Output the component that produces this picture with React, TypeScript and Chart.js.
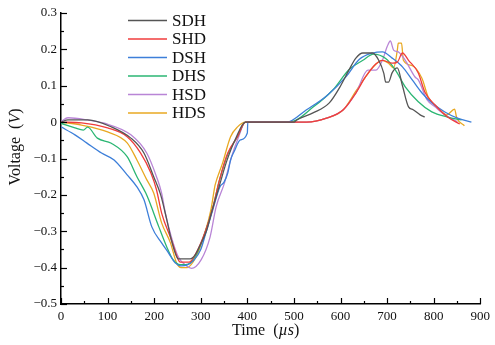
import React, { useEffect, useRef } from 'react';
import { Chart, registerables } from 'chart.js';

Chart.register(...registerables);

const seriesNames = ['SDH', 'SHD', 'DSH', 'DHS', 'HSD', 'HDS'];
const seriesColors = ['#555555', '#f03c3c', '#3d7fd9', '#2bb673', '#b985d6', '#e8a822'];

// time in µs, voltage in V
const sdhTime = [0, 15, 57, 108, 150, 178, 199, 214, 227, 237, 252, 277, 288, 298, 312, 325, 340, 355, 375, 396, 500, 506, 542, 576, 598, 618, 633, 648, 669, 682, 693, 697, 703, 711, 722, 733, 746, 756, 771, 781];
const sdhVolt = [0, 0.006, 0.006, -0.013, -0.044, -0.085, -0.15, -0.2, -0.268, -0.324, -0.376, -0.376, -0.365, -0.34, -0.3, -0.24, -0.175, -0.11, -0.045, 0, 0, 0.006, 0.026, 0.053, 0.095, 0.143, 0.176, 0.19, 0.19, 0.17, 0.134, 0.11, 0.11, 0.136, 0.149, 0.1, 0.042, 0.034, 0.02, 0.014];

const shdTime = [0, 44, 100, 142, 171, 193, 205, 216, 237, 252, 256, 275, 290, 310, 325, 340, 358, 379, 396, 527, 570, 606, 633, 654, 676, 690, 711, 722, 733, 746, 767, 781, 803, 830, 856];
const shdVolt = [0, -0.002, -0.016, -0.04, -0.085, -0.14, -0.186, -0.25, -0.324, -0.379, -0.385, -0.385, -0.36, -0.3, -0.24, -0.16, -0.085, -0.04, 0, 0, 0.011, 0.034, 0.08, 0.125, 0.16, 0.17, 0.162, 0.165, 0.19, 0.17, 0.135, 0.083, 0.047, 0.014, -0.005];

const dshTime = [0, 30, 55, 87, 114, 142, 163, 178, 195, 216, 231, 245, 258, 270, 285, 300, 312, 325, 341, 350, 358, 364, 372, 385, 400, 401, 485, 527, 570, 612, 640, 669, 690, 711, 733, 754, 775, 796, 824, 851, 881];
const dshVolt = [-0.013, -0.035, -0.057, -0.085, -0.104, -0.145, -0.178, -0.213, -0.288, -0.332, -0.36, -0.387, -0.395, -0.393, -0.38, -0.35, -0.3, -0.245, -0.178, -0.165, -0.14, -0.104, -0.08, -0.049, -0.03, 0, 0, 0.034, 0.072, 0.125, 0.172, 0.19, 0.193, 0.176, 0.152, 0.116, 0.08, 0.053, 0.028, 0.011, 0];

const dhsTime = [0, 30, 48, 57, 78, 108, 142, 163, 182, 188, 210, 227, 241, 256, 268, 290, 310, 325, 340, 358, 379, 396, 491, 542, 584, 618, 648, 671, 697, 718, 739, 767, 796, 830, 860];
const dhsVolt = [-0.003, -0.016, -0.022, -0.014, -0.044, -0.058, -0.095, -0.15, -0.195, -0.213, -0.288, -0.343, -0.379, -0.392, -0.392, -0.365, -0.3, -0.24, -0.16, -0.088, -0.04, 0, 0, 0.042, 0.089, 0.144, 0.17, 0.187, 0.175, 0.143, 0.097, 0.056, 0.028, 0.014, 0.006];

const hsdTime = [0, 15, 57, 93, 150, 184, 205, 216, 224, 237, 252, 269, 280, 301, 320, 333, 351, 365, 380, 396, 527, 570, 606, 633, 659, 676, 690, 700, 707, 714, 724, 739, 760, 767, 786, 803, 824, 851];
const hsdVolt = [0.002, 0.012, 0.006, -0.003, -0.035, -0.085, -0.15, -0.195, -0.25, -0.316, -0.371, -0.395, -0.402, -0.378, -0.316, -0.233, -0.167, -0.1, -0.045, 0, 0, 0.011, 0.034, 0.08, 0.143, 0.143, 0.17, 0.207, 0.223, 0.198, 0.193, 0.17, 0.124, 0.116, 0.061, 0.042, 0.02, 0.001];

const hdsTime = [0, 44, 100, 142, 163, 184, 199, 216, 235, 248, 258, 270, 290, 310, 322, 330, 331, 347, 364, 379, 396, 527, 570, 606, 633, 654, 676, 690, 703, 714, 722, 724, 731, 735, 754, 775, 788, 809, 828, 845, 849, 866];
const hdsVolt = [0, -0.008, -0.027, -0.057, -0.104, -0.158, -0.195, -0.277, -0.332, -0.387, -0.4, -0.4, -0.37, -0.3, -0.24, -0.178, -0.172, -0.112, -0.04, -0.013, 0, 0, 0.011, 0.034, 0.085, 0.125, 0.16, 0.17, 0.162, 0.149, 0.198, 0.217, 0.217, 0.17, 0.155, 0.12, 0.07, 0.039, 0.02, 0.036, 0.014, -0.01];

const seriesTimes = [sdhTime, shdTime, dshTime, dhsTime, hsdTime, hdsTime];
const seriesVolts = [sdhVolt, shdVolt, dshVolt, dhsVolt, hsdVolt, hdsVolt];

const xMin = 0, xMax = 900, xStep = 100, xMinor = 50;
const yMin = -0.5, yMax = 0.3, yStep = 0.1, yMinor = 0.05;

const SERIF = "'Liberation Serif', 'Times New Roman', serif";

const decorPlugin = {
  id: 'decor',
  afterDraw(chart: any) {
    const ctx = chart.ctx as CanvasRenderingContext2D;
    const xs = chart.scales.x;
    const ys = chart.scales.y;
    const area = chart.chartArea;
    ctx.save();
    ctx.strokeStyle = '#000';
    ctx.lineWidth = 1.2;
    // inward ticks
    for (let v = xMin; v <= xMax + 1e-9; v += xMinor) {
      const px = Math.round(xs.getPixelForValue(v)) + 0.5;
      const major = Math.abs(v / xStep - Math.round(v / xStep)) < 1e-6;
      ctx.beginPath();
      ctx.moveTo(px, area.bottom);
      ctx.lineTo(px, area.bottom - (major ? 6 : 3));
      ctx.stroke();
    }
    for (let i = 0; i <= Math.round((yMax - yMin) / yMinor); i++) {
      const v = yMin + i * yMinor;
      const py = Math.round(ys.getPixelForValue(v)) + 0.5;
      const major = i % 2 === 0;
      ctx.beginPath();
      ctx.moveTo(area.left, py);
      ctx.lineTo(area.left + (major ? 6 : 3), py);
      ctx.stroke();
    }
    // legend
    ctx.textBaseline = 'middle';
    ctx.textAlign = 'left';
    ctx.font = `17px ${SERIF}`;
    chart.data.datasets.forEach((ds: any, i: number) => {
      const y = 20.5 + i * 18.5;
      ctx.strokeStyle = ds.borderColor;
      ctx.lineWidth = 1.5;
      ctx.beginPath();
      ctx.moveTo(128, y);
      ctx.lineTo(167, y);
      ctx.stroke();
      ctx.fillStyle = '#111';
      ctx.fillText(ds.label, 172, y + 1);
    });
    // x title: Time (µs)
    ctx.fillStyle = '#111';
    const fN = `16px ${SERIF}`;
    const fI = `italic 16px ${SERIF}`;
    const xParts: [string, string][] = [['Time  (', fN], ['\u00b5s', fI], [')', fN]];
    let tw = 0;
    xParts.forEach(([t, f]) => { ctx.font = f; tw += ctx.measureText(t).width; });
    let cx = (area.left + area.right) / 2 - tw / 2 - 5;
    ctx.textBaseline = 'middle';
    xParts.forEach(([t, f]) => { ctx.font = f; ctx.fillText(t, cx, 331); cx += ctx.measureText(t).width; });
    // y title: Voltage (V)
    const yParts: [string, string][] = [['Voltage  (', fN], ['V', fI], [')', fN]];
    tw = 0;
    yParts.forEach(([t, f]) => { ctx.font = f; tw += ctx.measureText(t).width; });
    ctx.translate(16, 147);
    ctx.rotate(-Math.PI / 2);
    let cy = -tw / 2;
    yParts.forEach(([t, f]) => { ctx.font = f; ctx.fillText(t, cy, 0); cy += ctx.measureText(t).width; });
    ctx.restore();
  },
};

export default function App() {
  const ref = useRef<HTMLCanvasElement>(null);
  useEffect(() => {
    if (!ref.current) return;
    const datasets = seriesNames.map((name, i) => ({
      label: name,
      data: seriesTimes[i].map((t, j) => ({ x: t, y: seriesVolts[i][j] })),
      borderColor: seriesColors[i],
      backgroundColor: seriesColors[i],
      borderWidth: 1.3,
      pointRadius: 0,
      cubicInterpolationMode: 'monotone' as const,
      fill: false,
    }));
    const chart = new Chart(ref.current, {
      type: 'line',
      data: { datasets },
      plugins: [decorPlugin],
      options: {
        animation: false,
        responsive: false,
        layout: { padding: { top: 13, right: 9, left: 0, bottom: 0 } },
        plugins: { legend: { display: false }, tooltip: { enabled: false } },
        scales: {
          x: {
            type: 'linear',
            min: xMin,
            max: xMax,
            grid: { display: false, drawTicks: false },
            border: { display: true, color: '#000', width: 1.5 },
            ticks: {
              stepSize: xStep,
              padding: 5,
              color: '#111',
              font: { family: SERIF, size: 13 },
              maxRotation: 0,
            },
            afterFit: (s: any) => { s.height = 41; },
          },
          y: {
            type: 'linear',
            min: yMin,
            max: yMax,
            grid: { display: false, drawTicks: false },
            border: { display: true, color: '#000', width: 1.5 },
            ticks: {
              stepSize: yStep,
              padding: 4,
              color: '#111',
              font: { family: SERIF, size: 13 },
              callback: (v: any) => {
                const r = Math.round(Number(v) * 10) / 10;
                if (r === 0) return '0';
                return r < 0 ? '\u2212' + Math.abs(r).toFixed(1) : r.toFixed(1);
              },
            },
            afterFit: (s: any) => { s.width = 61; },
          },
        },
      },
    });
    return () => chart.destroy();
  }, []);
  return (
    <div style={{ position: 'absolute', left: 0, top: 0, width: 495, height: 345, background: '#fff' }}>
      <canvas ref={ref} width={495} height={345} style={{ display: 'block' }} />
    </div>
  );
}
